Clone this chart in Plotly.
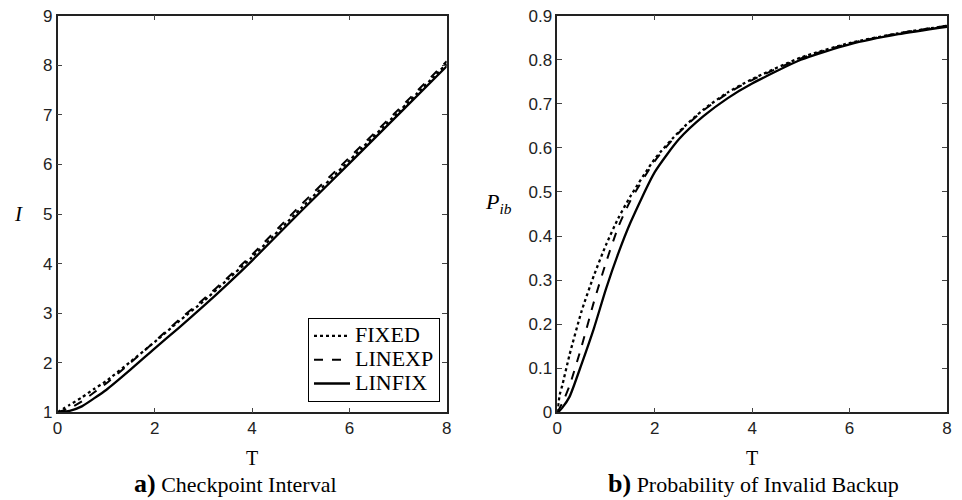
import plotly.graph_objects as go

# ---- data: a) Checkpoint Interval ----
T_a = [0, 0.25, 0.5, 0.75, 1, 1.5, 2, 2.5, 3, 3.5, 4, 5, 6, 7, 8]
I_fixed = [1.0, 1.15, 1.30, 1.47, 1.63, 2.02, 2.42, 2.84, 3.24, 3.68, 4.13, 5.11, 6.08, 7.05, 8.03]
I_linexp = [1.0, 1.08, 1.22, 1.40, 1.58, 2.00, 2.43, 2.87, 3.28, 3.72, 4.18, 5.18, 6.14, 7.10, 8.08]
I_linfix = [1.0, 1.03, 1.12, 1.28, 1.45, 1.86, 2.29, 2.71, 3.14, 3.59, 4.06, 5.05, 6.02, 7.00, 7.98]

# ---- data: b) Probability of Invalid Backup ----
T_b = [0, 0.05, 0.1, 0.25, 0.5, 0.75, 1, 1.25, 1.5, 2, 2.5, 3, 3.5, 4, 5, 6, 7, 8]
P_fixed = [0.0, 0.04, 0.06, 0.13, 0.23, 0.31, 0.38, 0.44, 0.49, 0.575, 0.637, 0.687, 0.726, 0.756, 0.805, 0.838, 0.86, 0.877]
P_linexp = [0.0, 0.01, 0.02, 0.06, 0.15, 0.25, 0.34, 0.42, 0.48, 0.57, 0.635, 0.685, 0.724, 0.754, 0.803, 0.837, 0.86, 0.877]
P_linfix = [0.0, 0.004, 0.01, 0.035, 0.11, 0.19, 0.28, 0.36, 0.43, 0.545, 0.62, 0.672, 0.713, 0.746, 0.80, 0.835, 0.858, 0.875]

x_ticks = [0, 2, 4, 6, 8]
i_ticks = [1, 2, 3, 4, 5, 6, 7, 8, 9]
p_ticks = [0, 0.1, 0.2, 0.3, 0.4, 0.5, 0.6, 0.7, 0.8, 0.9]
p_ticktext = ["0", "0.1", "0.2", "0.3", "0.4", "0.5", "0.6", "0.7", "0.8", "0.9"]

series_names = ["FIXED", "LINEXP", "LINFIX"]
dashes = ["dot", "dash", "solid"]
widths = [2.3, 2.0, 2.3]

fig = go.Figure()
for name, ys, d, w in zip(series_names, [I_fixed, I_linexp, I_linfix], dashes, widths):
    fig.add_trace(go.Scatter(x=T_a, y=ys, mode="lines",
                             name="<span style='font-size:22px'>" + name + "</span>",
                             line=dict(color="black", dash=d, width=w, shape="spline", smoothing=0.6),
                             xaxis="x", yaxis="y"))
for name, ys, d, w in zip(series_names, [P_fixed, P_linexp, P_linfix], dashes, widths):
    fig.add_trace(go.Scatter(x=T_b, y=ys, mode="lines", name=name, showlegend=False,
                             line=dict(color="black", dash=d, width=w, shape="spline", smoothing=0.6),
                             xaxis="x2", yaxis="y2"))

W, H = 962, 500


def fx(px):
    return px / W


def fy(py):
    return 1 - py / H


serif = "Liberation Serif, Times New Roman, serif"
tickfont = dict(family="Liberation Sans, Arial, sans-serif", size=17, color="#222")

axis_common = dict(showline=True, linecolor="#222", linewidth=1.5, mirror="ticks",
                   ticks="inside", ticklen=5, tickcolor="#444", showgrid=False,
                   zeroline=False, tickfont=tickfont, automargin=False)

ya_dom = [fy(412.3), fy(15.7)]
fig.update_layout(
    width=W, height=H,
    margin=dict(l=0, r=0, t=0, b=0, autoexpand=False),
    paper_bgcolor="white", plot_bgcolor="white",
    xaxis=dict(domain=[fx(57.5), fx(446.7)], range=[0, 8], tickvals=x_ticks,
               anchor="y", **axis_common),
    yaxis=dict(domain=ya_dom, range=[1, 9], tickvals=i_ticks, anchor="x", **axis_common),
    xaxis2=dict(domain=[fx(557.3), fx(947)], range=[0, 8], tickvals=x_ticks,
                anchor="y2", **axis_common),
    yaxis2=dict(domain=ya_dom, range=[0, 0.9], tickvals=p_ticks, ticktext=p_ticktext,
                anchor="x2", **axis_common),
    showlegend=True,
    legend=dict(x=fx(440), y=fy(402), xanchor="right", yanchor="bottom",
                bgcolor="white", bordercolor="black", borderwidth=1,
                font=dict(family=serif, size=16, color="black"),
                tracegroupgap=0, itemwidth=36),
)


def ann(x, y, text, size):
    fig.add_annotation(x=fx(x), y=fy(y), xref="paper", yref="paper", showarrow=False,
                       xanchor="center", yanchor="middle",
                       text=text, font=dict(family=serif, size=size, color="black"))


ann(252, 458, "T", 20)
ann(752, 458, "T", 20)
ann(18, 214, "<i>I</i>", 21)
ann(499, 203, "<i>P</i><sub><i>ib</i></sub>", 22)
ann(235, 483, "<b><span style='font-size:26px'>a)</span></b> Checkpoint Interval", 22)
ann(753, 483, "<b><span style='font-size:26px'>b)</span></b> Probability of Invalid Backup", 22)

fig.write_html("out.html", config={"displayModeBar": False},
               post_script="document.body.style.margin='0';document.body.style.overflow='hidden';")
